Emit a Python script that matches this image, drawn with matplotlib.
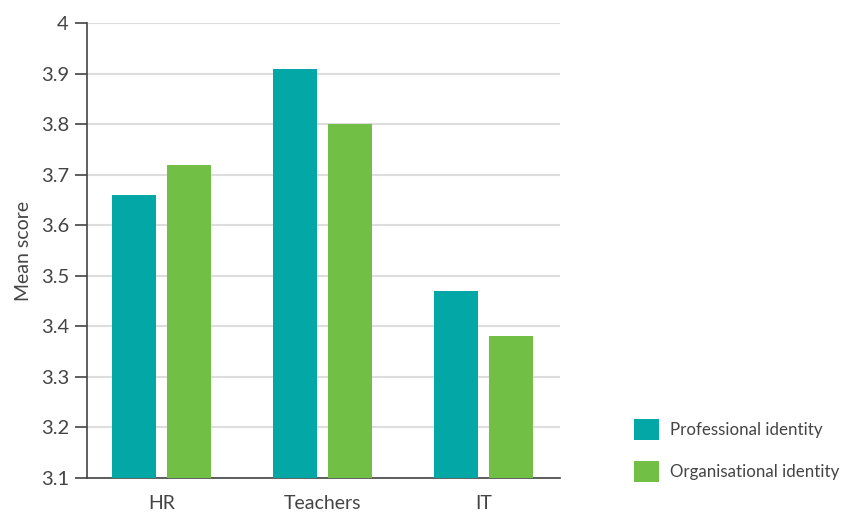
import numpy as np
import matplotlib
matplotlib.use("Agg")
import matplotlib.pyplot as plt
from matplotlib.patches import Patch

plt.rcParams['font.family'] = ['Lato', 'DejaVu Sans']

categories = ['HR', 'Teachers', 'IT']
professional = [3.66, 3.91, 3.47]
organisational = [3.72, 3.80, 3.38]
series_names = ['Professional identity', 'Organisational identity']
teal = '#03A8A6'
green = '#72BF45'
text_col = '#444444'

fig = plt.figure(figsize=(8.48, 5.19), dpi=100)
ax = fig.add_axes([87/848, 1 - 478/519, (560 - 87)/848, (478 - 23)/519])

x = np.arange(len(categories))
w = 0.273
off = 0.172
ax.bar(x - off, professional, w, color=teal, zorder=3)
ax.bar(x + off, organisational, w, color=green, zorder=3)

ax.set_ylim(3.1, 4.0)
ax.set_xlim(-0.463, 2.475)
ax.set_yticks(np.arange(3.1, 4.01, 0.1))
ax.set_yticklabels(['3.1', '3.2', '3.3', '3.4', '3.5', '3.6', '3.7', '3.8', '3.9', '4'])
ax.set_xticks(x)
ax.set_xticklabels(categories)
ax.tick_params(axis='x', length=0, pad=12, labelsize=14, colors=text_col)
ax.tick_params(axis='y', length=9, width=1.2, color='#444444', pad=4, labelsize=14.5, labelcolor=text_col)
ax.yaxis.grid(True, color='#dddddd', linewidth=1.5, zorder=0)
for s in ['top', 'right']:
    ax.spines[s].set_visible(False)
for s in ['left', 'bottom']:
    ax.spines[s].set_color('#444444')
    ax.spines[s].set_linewidth(1.2)
ax.set_ylabel('Mean score', fontsize=14, color=text_col, labelpad=6)

handles = [Patch(facecolor=teal), Patch(facecolor=green)]
fig.legend(handles, series_names, loc='upper left', bbox_to_anchor=(634/848, 1 - 419/519),
           frameon=False, fontsize=12.2, handlelength=1.5, handleheight=1.5,
           labelspacing=1.25, handletextpad=0.6, borderpad=0, borderaxespad=0,
           labelcolor=text_col)

fig.savefig('out.png', dpi=100)
